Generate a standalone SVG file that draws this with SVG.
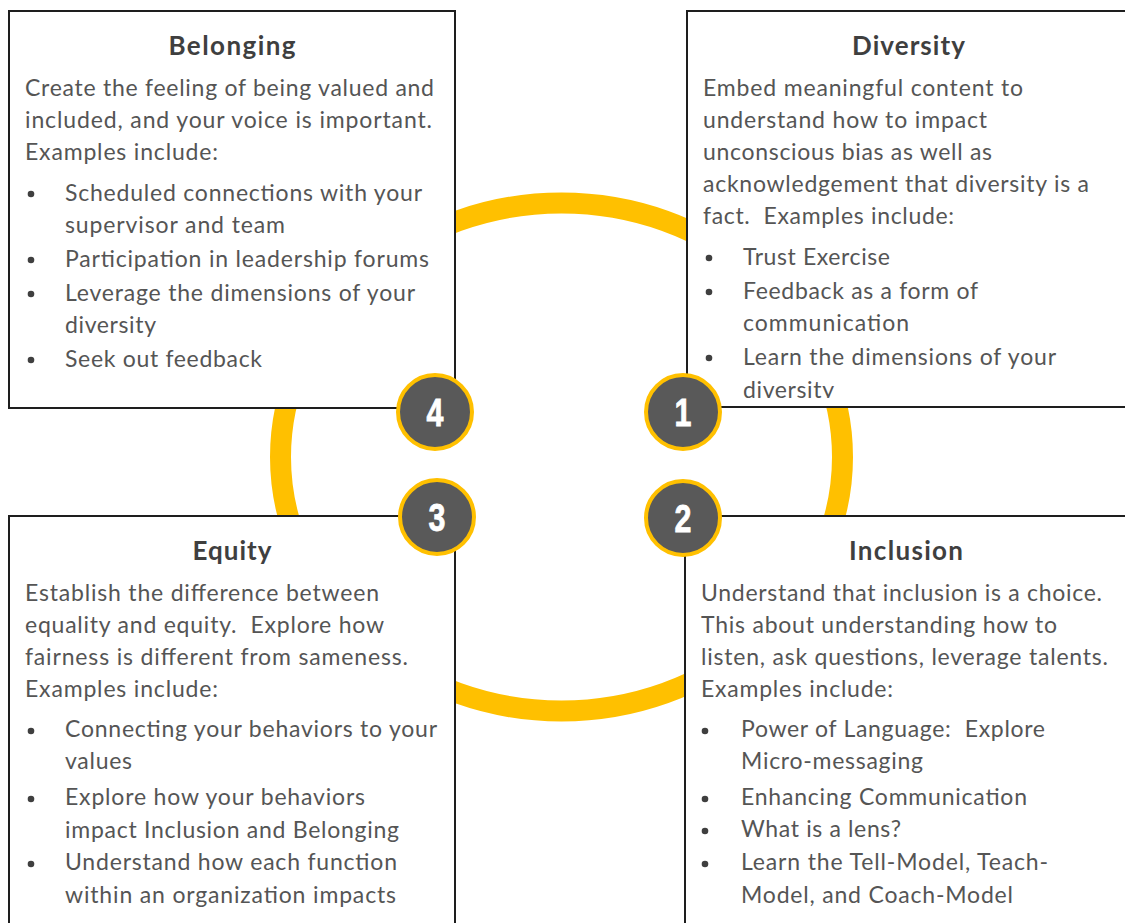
<svg xmlns="http://www.w3.org/2000/svg" width="1125" height="923" viewBox="0 0 1125 923">
  <defs>
    <style>
      .box { fill: #ffffff; stroke: #1e1e1e; stroke-width: 2; }
      .ring { fill: none; stroke: #FFC000; stroke-width: 21; }
      .t { font-family: Lato, "Liberation Sans", sans-serif; font-weight: bold; font-size: 26px; fill: #3f3f3f; text-anchor: middle; }
      .b { font-family: Lato, "Liberation Sans", sans-serif; font-size: 23px; fill: #555555; white-space: pre; }
      .dot { fill: #3f3f3f; }
      .badge { fill: #595959; stroke: #FFC000; stroke-width: 4; }
      .num { font-family: "Liberation Sans", sans-serif; font-weight: bold; font-size: 39px; fill: #ffffff; text-anchor: middle; stroke: #ffffff; stroke-width: 0.8; }
    </style>
    <clipPath id="clipDiversity">
      <rect x="687" y="11" width="440" height="387"/>
    </clipPath>
  </defs>

  <rect width="1125" height="923" fill="#ffffff"/>

  <!-- connecting cycle ring -->
  <g id="connectors">
    <ellipse class="ring" cx="561.5" cy="457" rx="281" ry="254"/>
  </g>

  <!-- 4: Belonging -->
  <g id="belonging">
    <rect class="box" x="9" y="11" width="446" height="397"/>
    <text class="t" x="232" y="55" textLength="127">Belonging</text>
    <text class="b" x="25" y="96" textLength="409">Create the feeling of being valued and</text>
    <text class="b" x="25" y="128" textLength="407">included, and your voice is important.</text>
    <text class="b" x="25" y="160" textLength="193">Examples include:</text>
    <circle class="dot" cx="31" cy="194" r="3.3"/>
    <text class="b" x="65" y="201" textLength="357">Scheduled connections with your</text>
    <text class="b" x="65" y="233" textLength="220">supervisor and team</text>
    <circle class="dot" cx="31" cy="260" r="3.3"/>
    <text class="b" x="65" y="267" textLength="364">Participation in leadership forums</text>
    <circle class="dot" cx="31" cy="294" r="3.3"/>
    <text class="b" x="65" y="301" textLength="350">Leverage the dimensions of your</text>
    <text class="b" x="65" y="333" textLength="91">diversity</text>
    <circle class="dot" cx="31" cy="360" r="3.3"/>
    <text class="b" x="65" y="367" textLength="197">Seek out feedback</text>
  </g>

  <!-- 1: Diversity -->
  <g id="diversity">
    <rect class="box" x="687" y="11" width="446" height="396"/>
    <text class="t" x="908.5" y="55" textLength="113">Diversity</text>
    <text class="b" x="703" y="96" textLength="320">Embed meaningful content to</text>
    <text class="b" x="703" y="128" textLength="284">understand how to impact</text>
    <text class="b" x="703" y="160" textLength="289">unconscious bias as well as</text>
    <text class="b" x="703" y="192" textLength="386">acknowledgement that diversity is a</text>
    <text class="b" x="703" y="224" textLength="251">fact.  Examples include:</text>
    <circle class="dot" cx="709" cy="258" r="3.3"/>
    <text class="b" x="743" y="265" textLength="147">Trust Exercise</text>
    <circle class="dot" cx="709" cy="292" r="3.3"/>
    <text class="b" x="743" y="299" textLength="235">Feedback as a form of</text>
    <text class="b" x="743" y="331" textLength="166">communication</text>
    <circle class="dot" cx="709" cy="358" r="3.3"/>
    <text class="b" x="743" y="365" textLength="313">Learn the dimensions of your</text>
    <text class="b" x="743" y="398" textLength="91" clip-path="url(#clipDiversity)">diversity</text>
  </g>

  <!-- 3: Equity -->
  <g id="equity">
    <rect class="box" x="9" y="516" width="446" height="420"/>
    <text class="t" x="232" y="560" textLength="79">Equity</text>
    <text class="b" x="25" y="601" textLength="354">Establish the difference between</text>
    <text class="b" x="25" y="633" textLength="359">equality and equity.  Explore how</text>
    <text class="b" x="25" y="665" textLength="383">fairness is different from sameness.</text>
    <text class="b" x="25" y="697" textLength="193">Examples include:</text>
    <circle class="dot" cx="31" cy="731" r="3.3"/>
    <text class="b" x="65" y="737" textLength="372">Connecting your behaviors to your</text>
    <text class="b" x="65" y="769" textLength="67">values</text>
    <circle class="dot" cx="31" cy="799" r="3.3"/>
    <text class="b" x="65" y="805" textLength="300">Explore how your behaviors</text>
    <text class="b" x="65" y="838" textLength="334">impact Inclusion and Belonging</text>
    <circle class="dot" cx="31" cy="864" r="3.3"/>
    <text class="b" x="65" y="870" textLength="332">Understand how each function</text>
    <text class="b" x="65" y="903" textLength="331">within an organization impacts</text>
  </g>

  <!-- 2: Inclusion -->
  <g id="inclusion">
    <rect class="box" x="685" y="516" width="446" height="420"/>
    <text class="t" x="906" y="560" textLength="114">Inclusion</text>
    <text class="b" x="701" y="601" textLength="401">Understand that inclusion is a choice.</text>
    <text class="b" x="701" y="633" textLength="356">This about understanding how to</text>
    <text class="b" x="701" y="665" textLength="407">listen, ask questions, leverage talents.</text>
    <text class="b" x="701" y="697" textLength="192">Examples include:</text>
    <circle class="dot" cx="705" cy="731" r="3.3"/>
    <text class="b" x="741" y="737" textLength="304">Power of Language:  Explore</text>
    <text class="b" x="741" y="769" textLength="182">Micro-messaging</text>
    <circle class="dot" cx="705" cy="799" r="3.3"/>
    <text class="b" x="741" y="805" textLength="286">Enhancing Communication</text>
    <circle class="dot" cx="705" cy="831" r="3.3"/>
    <text class="b" x="741" y="837" textLength="160">What is a lens?</text>
    <circle class="dot" cx="705" cy="864" r="3.3"/>
    <text class="b" x="741" y="870" textLength="307">Learn the Tell-Model, Teach-</text>
    <text class="b" x="741" y="903" textLength="272">Model, and Coach-Model</text>
  </g>

  <!-- numbered badges (digits drawn condensed) -->
  <g id="badge-4">
    <circle class="badge" cx="435" cy="412" r="37"/>
    <text class="num" transform="translate(435 426) scale(0.78 1)">4</text>
  </g>
  <g id="badge-1">
    <circle class="badge" cx="683" cy="412" r="37"/>
    <text class="num" transform="translate(683 426) scale(0.78 1)">1</text>
  </g>
  <g id="badge-3">
    <circle class="badge" cx="437" cy="517" r="37"/>
    <text class="num" transform="translate(437 531) scale(0.78 1)">3</text>
  </g>
  <g id="badge-2">
    <circle class="badge" cx="683" cy="518" r="37"/>
    <text class="num" transform="translate(683 532) scale(0.78 1)">2</text>
  </g>
</svg>
